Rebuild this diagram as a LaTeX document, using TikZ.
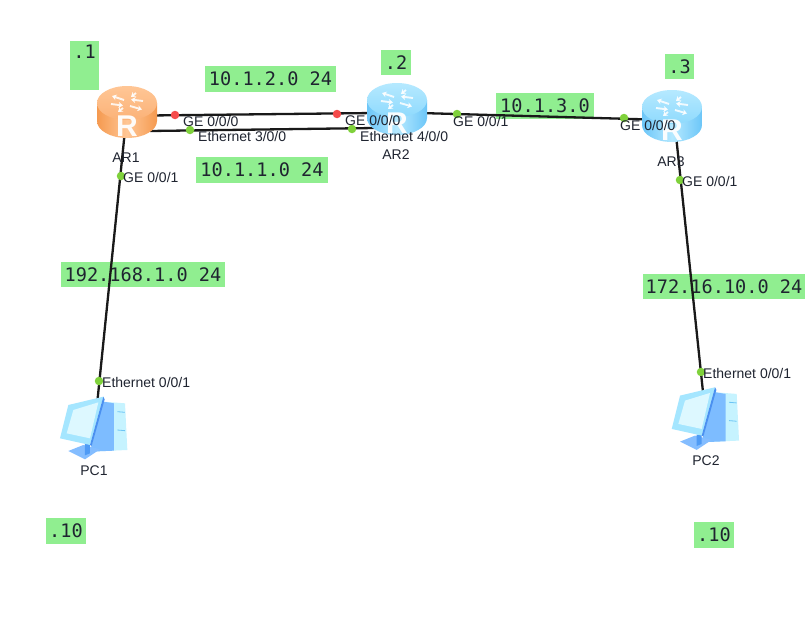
\documentclass[tikz,border=0pt]{standalone}
\usepackage{fontspec}
\setmainfont{Liberation Sans}
\newfontfamily\labelmono{DejaVu Sans Mono}
\usetikzlibrary{arrows.meta}
\definecolor{netgreen}{HTML}{90EE90}
\definecolor{portgreen}{HTML}{7FD13B}
\definecolor{portred}{HTML}{F54B4B}
\definecolor{inkdark}{HTML}{1F2430}
\definecolor{orA}{HTML}{FFC695}
\definecolor{orB}{HTML}{FBB278}
\definecolor{orC}{HTML}{F59A50}
\definecolor{blA}{HTML}{B5E9FF}
\definecolor{blB}{HTML}{8FDAFD}
\definecolor{blC}{HTML}{6CC6F8}
\definecolor{pcTower}{HTML}{C6F3FF}
\definecolor{pcSide}{HTML}{7DBCFF}
\definecolor{pcBase}{HTML}{84BDFF}
\definecolor{pcStem}{HTML}{4F9BF5}
\definecolor{pcFrame}{HTML}{A5E6FF}
\definecolor{pcEdge}{HTML}{4A90F0}
\definecolor{pcScreen}{HTML}{DDF8FF}
\definecolor{pcSlot}{HTML}{6CC4F5}
\tikzset{
  x=1pt,y=-1pt,
  net/.style={fill=netgreen,inner sep=0pt,font=\labelmono\fontsize{18.6}{20}\selectfont,text=inkdark,align=center,text height=13.5pt,text depth=0pt},
  port/.style={font=\fontsize{14}{15}\selectfont,text=inkdark,anchor=west,inner sep=0pt},
  devname/.style={font=\fontsize{14}{16}\selectfont,text=inkdark,inner sep=0pt},
  dotg/.style={circle,fill=portgreen,minimum size=8.5pt,inner sep=0pt},
  dotr/.style={circle,fill=portred,minimum size=8.5pt,inner sep=0pt},
  wire/.style={draw=black!90,line width=2.3pt},
  hold/.style={minimum width=60pt,minimum height=53pt,inner sep=0pt},
  pchold/.style={minimum width=66pt,minimum height=60pt,inner sep=0pt},
}
% #1 centre x, #2 centre y, #3 bright, #4 mid, #5 dark
\newcommand{\routericon}[5]{%
  \begin{scope}[shift={(#1,#2)}]
    \path[left color=#5,right color=#5,middle color=#3]
      (-30,-9) -- (-30,9) arc[start angle=180,end angle=0,x radius=30,y radius=17] -- (30,-9) -- cycle;
    \path[top color=#3,bottom color=#4] (0,-9) ellipse[x radius=30,y radius=17];
    \begin{scope}[white,line width=1.9pt,opacity=.85,arrows={-{Stealth[length=4.5pt,width=6pt]}}]
      \draw (-3,-12) -- (-15,-16);
      \draw (-16,-8) -- (-4,-6.5);
      \draw (3,-6) -- (15,-2.5);
      \draw (16,-11) -- (4,-12.5);
      \draw (-4,-4) -- (-9,0);
      \draw (9,-19) -- (4,-15);
    \end{scope}
    \node[text=white,opacity=.95,inner sep=0pt,font=\bfseries\fontsize{30}{30}\selectfont] at (0,14) {R};
  \end{scope}}
\newcommand{\pcicon}[2]{%
  \begin{scope}[shift={(#1,#2)},x=.3333pt,y=-.3333pt]
    \fill[pcTower] (190,95) -- (255,100) -- (262,240) -- (150,245) -- cycle;
    \fill[pcSide] (190,95) -- (222,100) -- (222,242) -- (150,245) -- cycle;
    \fill[pcBase] (85,243) -- (130,225) -- (180,238) -- (135,268) -- cycle;
    \fill[pcStem] (135,222) -- (150,222) -- (150,250) -- (135,256) -- cycle;
    \fill[pcFrame] (85,105) -- (190,80) -- (150,225) -- (60,205) -- cycle;
    \fill[pcEdge] (190,80) -- (194,88) -- (155,228) -- (150,225) -- cycle;
    \fill[pcScreen] (100,120) -- (175,97) -- (150,205) -- (80,190) -- cycle;
    \draw[pcSlot,line width=.8pt] (232,125) -- (255,127) (232,180) -- (255,182);
  \end{scope}}
\begin{document}
\begin{tikzpicture}
\useasboundingbox (0,0) rectangle (811,642);
\fill[white] (0,0) rectangle (811,642);
% device placeholders
\node[hold] (ar1) at (127,112) {};
\node[hold] (ar2) at (397,109) {};
\node[hold] (ar3) at (672,116) {};
\node[pchold] (pc1) at (94,427) {};
\node[pchold] (pc2) at (706,418) {};
% network boxes
\node[net,minimum width=29pt,minimum height=49pt,text depth=27pt] (n1) at (84.5,65.5) {.1};
\node[net,minimum width=131pt,minimum height=26pt] (n2) at (270.5,79) {10.1.2.0 24};
\node[net,minimum width=132pt,minimum height=26pt] (n3) at (262,170) {10.1.1.0 24};
\node[net,minimum width=30pt,minimum height=25pt] (n4) at (396,62.5) {.2};
\node[net,minimum width=29pt,minimum height=25pt] (n5) at (679.5,66.5) {.3};
\node[net,minimum width=98pt,minimum height=26pt] (n6) at (545,106) {10.1.3.0};
\node[net,minimum width=164pt,minimum height=25pt] (n7) at (143,274.5) {192.168.1.0 24};
\node[net,minimum width=162pt,minimum height=25pt] (n8) at (724,286.5) {172.16.10.0 24};
\node[net,minimum width=40pt,minimum height=26pt] (n9) at (66,531) {.10};
\node[net,minimum width=40pt,minimum height=26pt] (n10) at (714,535) {.10};
% connector ends
\coordinate (a1t) at (150,115.5);
\coordinate (a2t) at (375,113);
\coordinate (a1b) at (150,131);
\coordinate (a2b) at (375,128);
\coordinate (a2r) at (420,113);
\coordinate (a3l) at (650,119.5);
\coordinate (a1d) at (124.5,135);
\coordinate (a3d) at (676.5,140);
\coordinate (p1u) at (97.5,400);
\coordinate (p2u) at (703,392);
% connectors
\draw[wire] (a1t) -- (a2t);
\draw[wire] (a1b) -- (a2b);
\draw[wire] (a2r) -- (a3l);
\draw[wire] (a1d) -- (p1u);
\draw[wire] (a3d) -- (p2u);
% devices
\routericon{127}{112}{orA}{orB}{orC}
\routericon{397}{109}{blA}{blB}{blC}
\routericon{672}{116}{blA}{blB}{blC}
\pcicon{40}{370}
\pcicon{651.7}{360.6}
% port dots
\node[dotr] (d1) at (175,115) {};
\node[dotr] (d2) at (337,114) {};
\node[dotg] (d3) at (190,130) {};
\node[dotg] (d4) at (352,129) {};
\node[dotg] (d5) at (457,114) {};
\node[dotg] (d6) at (624,118) {};
\node[dotg] (d7) at (121,176) {};
\node[dotg] (d8) at (99,381) {};
\node[dotg] (d9) at (680,180) {};
\node[dotg] (d10) at (701,372) {};
% port labels
\node[port] (l1) at (183,121) {GE 0/0/0};
\node[port] (l2) at (198,136) {Ethernet 3/0/0};
\node[port] (l3) at (123,177) {GE 0/0/1};
\node[port] (l4) at (345,120) {GE 0/0/0};
\node[port] (l5) at (360,136) {Ethernet 4/0/0};
\node[port] (l6) at (453,121) {GE 0/0/1};
\node[port] (l7) at (620,125) {GE 0/0/0};
\node[port] (l8) at (682,181) {GE 0/0/1};
\node[port] (l9) at (102,382) {Ethernet 0/0/1};
\node[port] (l10) at (703,373) {Ethernet 0/0/1};
% device names
\node[devname] (t1) at (126,158) {AR1};
\node[devname] (t2) at (396,155) {AR2};
\node[devname] (t3) at (671,162) {AR3};
\node[devname] (t4) at (94,471) {PC1};
\node[devname] (t5) at (706,461) {PC2};
\end{tikzpicture}
\end{document}
